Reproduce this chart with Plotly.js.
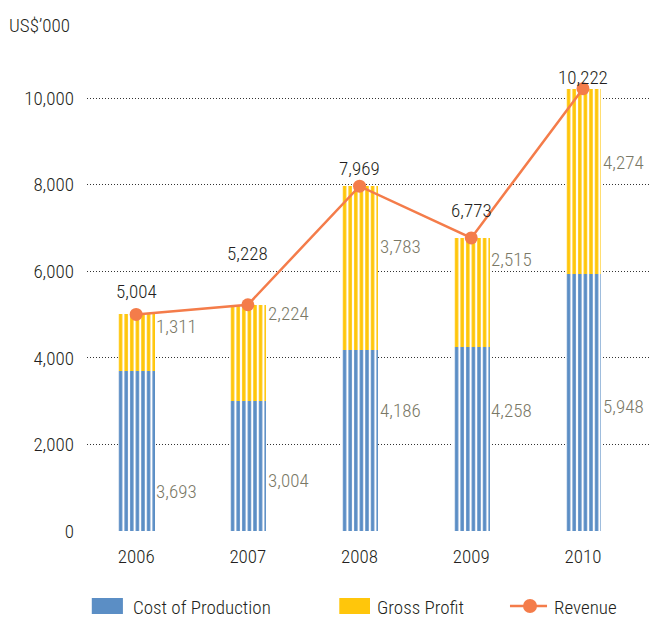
<!DOCTYPE html>
<html>
<head>
<meta charset="utf-8">
<script src="https://cdn.plot.ly/plotly-3.0.1.min.js"></script>
<style>html,body{margin:0;padding:0;background:#fff;}#chart{width:652px;height:619px;}</style>
</head>
<body>
<div id="chart"></div>
<script>
// ---- data ----
var years = ['2006', '2007', '2008', '2009', '2010'];
var costOfProduction = [3693, 3004, 4186, 4258, 5948];
var grossProfit = [1311, 2224, 3783, 2515, 4274];
var revenue = [5004, 5228, 7969, 6773, 10222];

// ---- label placement (layout, in y-axis units) ----
var costLabelY = [908, 1172, 2796, 2796, 2873];
var profitLabelY = [4731, 5015, 6586, 6263, 8505];
var revenueLabelY = [5535, 6402, 8371, 7407, 10481];

var FONT = '"Roboto Condensed", "DejaVu Sans Condensed", Roboto, sans-serif';
var FS = 19;
var FW = 300;
var BLUE = '#5B8EC5', GOLD = '#FFC60B', ORANGE = '#F47C4A', GREY = '#7A7866', DARK = '#231F20';

function fmt(v) { return v.toLocaleString('en-US'); }
function font(color) { return { family: FONT, size: FS, color: color, weight: FW }; }

var traces = [
  {
    type: 'bar', x: years, y: costOfProduction, name: 'Cost of Production',
    width: 0.33,
    marker: { color: BLUE, line: { width: 0 },
      pattern: { shape: '|', fillmode: 'replace', bgcolor: BLUE, fgcolor: '#ffffff', size: 5.6, solidity: 0.38 } },
    hoverinfo: 'skip', showlegend: false
  },
  {
    type: 'bar', x: years, y: grossProfit, name: 'Gross Profit',
    width: 0.33,
    marker: { color: GOLD, line: { width: 0 },
      pattern: { shape: '|', fillmode: 'replace', bgcolor: GOLD, fgcolor: '#ffffff', size: 5.6, solidity: 0.38 } },
    hoverinfo: 'skip', showlegend: false
  },
  {
    type: 'scatter', mode: 'lines+markers', x: years, y: revenue, name: 'Revenue',
    line: { color: ORANGE, width: 2.5 },
    marker: { color: ORANGE, size: 13 },
    cliponaxis: false, hoverinfo: 'skip', showlegend: false
  }
];

var annotations = [];
years.forEach(function (yr, i) {
  annotations.push({ x: i, y: revenueLabelY[i], xref: 'x', yref: 'y', text: fmt(revenue[i]),
    showarrow: false, xanchor: 'center', yanchor: 'middle', font: font(DARK) });
  annotations.push({ x: i, y: costLabelY[i], xref: 'x', yref: 'y', text: fmt(costOfProduction[i]),
    showarrow: false, xanchor: 'left', yanchor: 'middle', xshift: 18, font: font(GREY) });
  annotations.push({ x: i, y: profitLabelY[i], xref: 'x', yref: 'y', text: fmt(grossProfit[i]),
    showarrow: false, xanchor: 'left', yanchor: 'middle', xshift: 18, font: font(GREY) });
});

// custom legend (paper coordinates)
var legY = -0.1597;
var legendItems = [
  { text: 'Cost of Production', x: 0.0782 },
  { text: 'Gross Profit', x: 0.5124 },
  { text: 'Revenue', x: 0.8268 }
];
legendItems.forEach(function (it) {
  annotations.push({ x: it.x, y: legY, xref: 'paper', yref: 'paper', text: it.text, showarrow: false,
    xanchor: 'left', yanchor: 'middle', font: font(DARK) });
});

var shapes = [
  { type: 'rect', xref: 'paper', yref: 'paper', x0: 0.0085, x1: 0.0638, y0: -0.1744, y1: -0.1408, fillcolor: BLUE, line: { width: 0 } },
  { type: 'rect', xref: 'paper', yref: 'paper', x0: 0.4481, x1: 0.5027, y0: -0.1744, y1: -0.1408, fillcolor: GOLD, line: { width: 0 } },
  { type: 'line', xref: 'paper', yref: 'paper', x0: 0.7513, x1: 0.8171, y0: -0.1576, y1: -0.1576, line: { color: ORANGE, width: 2.5 } },
  { type: 'circle', xref: 'paper', yref: 'paper', xsizemode: 'pixel', ysizemode: 'pixel', xanchor: 0.7869, yanchor: -0.1576,
    x0: -7, x1: 7, y0: -7, y1: 7, fillcolor: ORANGE, line: { width: 0 } }
];

var layout = {
  width: 652, height: 619,
  margin: { l: 87, r: 2, t: 55, b: 88 },
  paper_bgcolor: '#ffffff', plot_bgcolor: '#ffffff',
  barmode: 'stack',
  showlegend: false,
  font: font(DARK),
  title: { text: 'US$\u2019000', x: 9 / 652, xanchor: 'left', xref: 'container', y: 1 - 25 / 619, yanchor: 'middle', yref: 'container',
    font: font(DARK) },
  xaxis: {
    type: 'category', range: [-0.44, 4.6], showgrid: false, zeroline: false, showline: false,
    ticks: '', ticklabelstandoff: 12, tickfont: font(DARK), fixedrange: true
  },
  yaxis: {
    range: [0, 11000], tickvals: [0, 2000, 4000, 6000, 8000, 10000],
    ticktext: ['0', '2,000', '4,000', '6,000', '8,000', '10,000'],
    showgrid: true, gridcolor: '#333333', gridwidth: 1, griddash: '1px,2px',
    zeroline: false, showline: false, ticks: '', ticklabelstandoff: 12,
    tickfont: font(DARK), fixedrange: true
  },
  annotations: annotations,
  shapes: shapes
};

Plotly.newPlot('chart', traces, layout, { displayModeBar: false, staticPlot: true });
</script>
</body>
</html>
